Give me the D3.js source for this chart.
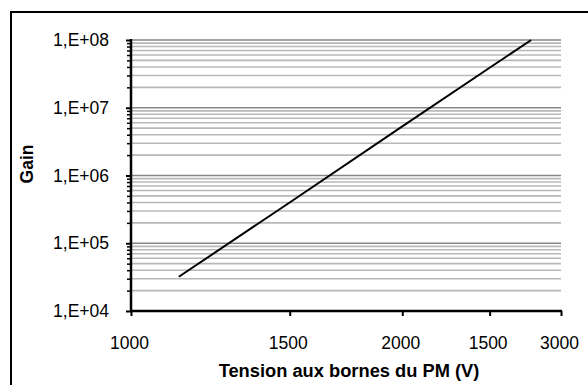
<!DOCTYPE html>
<html>
<head>
<meta charset="utf-8">
<script src="https://cdn.jsdelivr.net/npm/d3@7"></script>
<style>
  html, body { margin: 0; padding: 0; background: #fff; }
  svg { display: block; }
  text { font-family: "Liberation Sans", Arial, sans-serif; fill: #000; }
</style>
</head>
<body>
<svg id="chart" width="588" height="385"></svg>
<script>
// PM gain versus supply voltage (log-log)
const voltages = [1130, 1500, 2000, 2500, 2780];
const gains = [3.2e4, 4.0e5, 5.3e6, 3.9e7, 1.0e8];

const xTickValues = [1000, 1500, 2000, 2500, 3000];
const xTickLabels = ["1000", "1500", "2000", "1500", "3000"];
const yTickValues = [1e4, 1e5, 1e6, 1e7, 1e8];
const yTickLabels = ["1,E+04", "1,E+05", "1,E+06", "1,E+07", "1,E+08"];

const svg = d3.select("#chart");

const plotLeft = 131, plotRight = 561, plotTop = 40, plotBottom = 311;

const x = d3.scaleLog().domain([1000, 3000]).range([plotLeft, plotRight]);
const y = d3.scaleLog().domain([1e4, 1e8]).range([plotBottom, plotTop]);

// outer frame
svg.append("rect")
  .attr("x", 11).attr("y", 12)
  .attr("width", 620).attr("height", 400)
  .attr("fill", "none").attr("stroke", "#000").attr("stroke-width", 2);

// horizontal gridlines: minor (2..9 per decade) and major (decades)
const minor = [];
for (let e = 4; e < 8; e++) for (let k = 2; k <= 9; k++) minor.push(k * Math.pow(10, e));
const major = yTickValues.slice(1);

const grid = svg.append("g");
grid.selectAll("line.minor").data(minor).enter().append("line")
  .attr("class", "minor")
  .attr("x1", plotLeft).attr("x2", plotRight)
  .attr("y1", d => y(d)).attr("y2", d => y(d))
  .attr("stroke", "#b8b8b8").attr("stroke-width", 1.6);
grid.selectAll("line.major").data(major).enter().append("line")
  .attr("class", "major")
  .attr("x1", plotLeft).attr("x2", plotRight)
  .attr("y1", d => y(d)).attr("y2", d => y(d))
  .attr("stroke", "#888888").attr("stroke-width", 1.6);

// y axis with minor ticks
const yAxis = svg.append("g").attr("transform", `translate(${plotLeft},0)`);
yAxis.call(d3.axisLeft(y).tickValues(minor).tickSize(4).tickFormat(""))
  .call(g => g.select(".domain").remove())
  .call(g => g.selectAll("line").attr("stroke", "#000").attr("stroke-width", 1.5));
yAxis.append("g")
  .call(d3.axisLeft(y).tickValues(yTickValues).tickSize(5)
    .tickFormat((d, i) => yTickLabels[i]).tickPadding(17))
  .call(g => g.select(".domain").remove())
  .call(g => g.selectAll("line").attr("stroke", "#000").attr("stroke-width", 2))
  .call(g => g.selectAll("text")
    .attr("font-size", 17.5).attr("fill", "#000")
    .style("font-family", "'Liberation Sans', Arial, sans-serif"));
yAxis.append("line")
  .attr("x1", 0).attr("x2", 0).attr("y1", plotTop - 1).attr("y2", plotBottom + 1)
  .attr("stroke", "#000").attr("stroke-width", 2.5);

// x axis
const xAxis = svg.append("g").attr("transform", `translate(0,${plotBottom})`);
xAxis.call(d3.axisBottom(x).tickValues(xTickValues).tickSize(5)
    .tickFormat((d, i) => xTickLabels[i]).tickPadding(21))
  .call(g => g.select(".domain").remove())
  .call(g => g.selectAll("line").attr("stroke", "#000").attr("stroke-width", 2))
  .call(g => g.selectAll("text")
    .attr("font-size", 17.5).attr("fill", "#000").attr("dx", -2)
    .style("font-family", "'Liberation Sans', Arial, sans-serif"));
xAxis.append("line")
  .attr("x1", plotLeft - 1).attr("x2", plotRight + 1).attr("y1", 0).attr("y2", 0)
  .attr("stroke", "#000").attr("stroke-width", 2.5);

// gain curve
const line = d3.line().x((d, i) => x(voltages[i])).y(d => y(d));
svg.append("path")
  .datum(gains)
  .attr("d", line)
  .attr("fill", "none").attr("stroke", "#000").attr("stroke-width", 2);

// axis titles
svg.append("text")
  .attr("transform", "translate(33,164) rotate(-90)")
  .attr("text-anchor", "middle")
  .attr("font-size", 17.5).attr("font-weight", "bold")
  .text("Gain");

svg.append("text")
  .attr("x", 349).attr("y", 377)
  .attr("text-anchor", "middle")
  .attr("font-size", 18.3).attr("font-weight", "bold")
  .text("Tension aux bornes du PM (V)");
</script>
</body>
</html>
